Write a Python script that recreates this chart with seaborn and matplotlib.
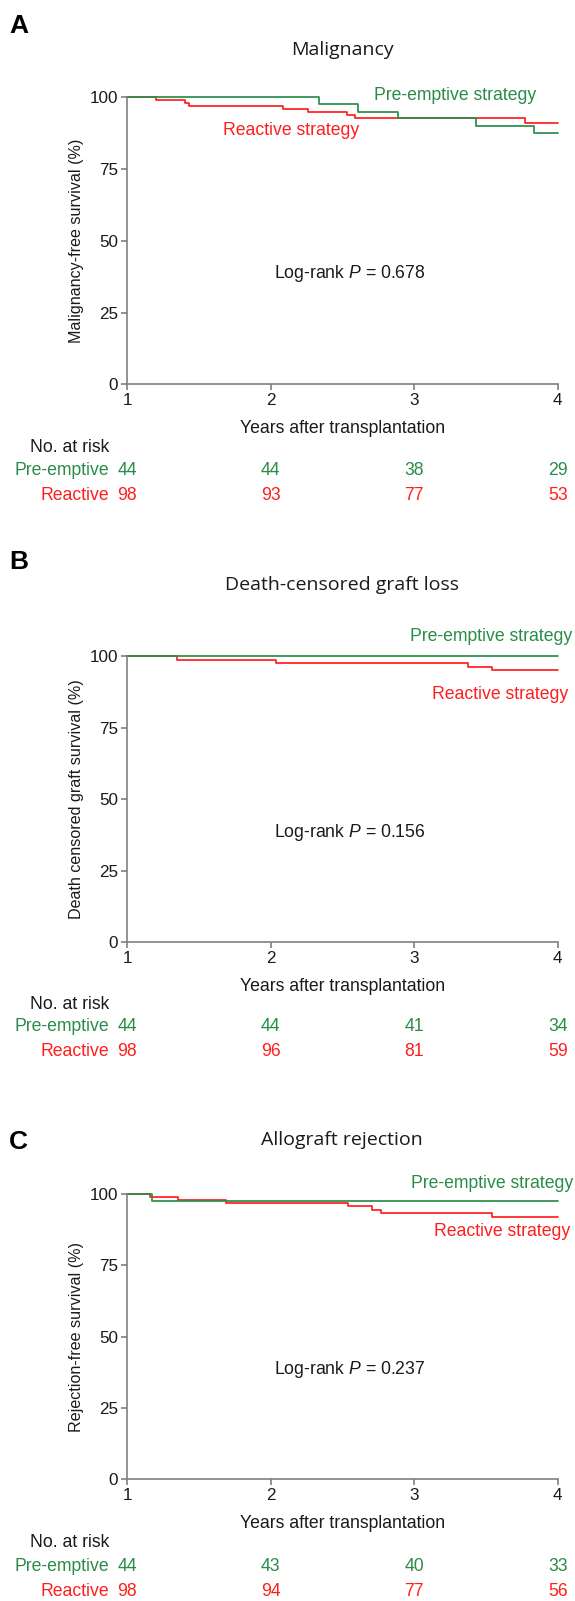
import numpy as np
import pandas as pd
import matplotlib
matplotlib.use("Agg")
import matplotlib.pyplot as plt
import seaborn as sns
from matplotlib.transforms import blended_transform_factory as btf

# ---------------- data ----------------
titles = ["Malignancy", "Death-censored graft loss", "Allograft rejection"]
letters = ["A", "B", "C"]
ylabels = ["Malignancy-free survival (%)",
           "Death censored graft survival (%)",
           "Rejection-free survival (%)"]
pvalues = ["0.678", "0.156", "0.237"]
groups = ["Pre-emptive", "Reactive"]
legend_names = ["Pre-emptive strategy", "Reactive strategy"]
xticks = [1, 2, 3, 4]
yticks = [0, 25, 50, 75, 100]
risk_times = [1, 2, 3, 4]
risk_pre = [[44, 44, 38, 29], [44, 44, 41, 34], [44, 43, 40, 33]]
risk_react = [[98, 93, 77, 53], [98, 96, 81, 59], [98, 94, 77, 56]]

a_pre_t = [1.0, 2.34, 2.61, 2.89, 3.43, 3.835, 4.0]
a_pre_s = [100, 97.7, 95.0, 92.7, 90.1, 87.6, 87.6]
a_rea_t = [1.0, 1.20, 1.404, 1.434, 2.084, 2.263, 2.53, 2.588, 3.772, 4.0]
a_rea_s = [100, 98.9, 98.1, 97.0, 95.8, 94.8, 93.8, 92.7, 91.2, 91.2]

b_pre_t = [1.0, 4.0]
b_pre_s = [100, 100]
b_rea_t = [1.0, 1.346, 2.038, 3.373, 3.54, 4.0]
b_rea_s = [100, 98.95, 97.9, 96.5, 95.2, 95.2]

c_pre_t = [1.0, 1.172, 4.0]
c_pre_s = [100, 97.6, 97.6]
c_rea_t = [1.0, 1.16, 1.356, 1.688, 2.54, 2.71, 2.77, 3.545, 4.0]
c_rea_s = [100, 99.0, 97.9, 96.9, 95.8, 94.6, 93.4, 92.0, 92.0]

curves = [((a_pre_t, a_pre_s), (a_rea_t, a_rea_s)),
          ((b_pre_t, b_pre_s), (b_rea_t, b_rea_s)),
          ((c_pre_t, c_pre_s), (c_rea_t, c_rea_s))]

# ---------------- style ----------------
sns.set_theme(style="ticks")
plt.rcParams["font.family"] = ["Liberation Sans", "DejaVu Sans"]
plt.rcParams["mathtext.fontset"] = "custom"
plt.rcParams["mathtext.rm"] = "Liberation Sans"
plt.rcParams["mathtext.it"] = "Liberation Sans:italic"

GREEN = "#2a8c48"
RED = "#ff1e1e"
SPINE = "#808080"
TXT = "#1a1a1a"
FS = 12.7
TFS = 12.3

W, H = 575, 1601
fig = plt.figure(figsize=(W / 100, H / 100), dpi=100)
fig.patch.set_facecolor("white")

def fx(x):
    return x / W

def fy(y):
    return 1 - y / H

# layout in pixels: (y of 100 line, y of 0 line, letter y, title y, norisk y, pre row y, react row y)
layout = [
    (97.3, 384.3, 26, 50, 447.3, 470.5, 495.5),
    (656.5, 942.3, 562, 585, 1004, 1026.7, 1051.7),
    (1194.3, 1479.0, 1142, 1140, 1542, 1566, 1591),
]
# strategy label positions (data coords): (x_right, y)
lab_pos = [
    [(3.85, 100.8), (2.62, 88.6)],
    [(4.103, 107.0), (4.075, 86.8)],
    [(4.107, 103.9), (4.085, 87.1)],
]
AX_L, AX_R = 127, 557.7

for i in range(3):
    y100, y0, ly, ty, nry, pry, rry = layout[i]
    ax = fig.add_axes([fx(AX_L), fy(y0), (AX_R - AX_L) / W, (y0 - y100) / H])
    (pt, ps), (rt, rs) = curves[i]
    df_r = pd.DataFrame({"t": rt, "s": rs})
    df_p = pd.DataFrame({"t": pt, "s": ps})
    sns.lineplot(data=df_r, x="t", y="s", ax=ax, color=RED, lw=1.25,
                 drawstyle="steps-post", estimator=None, sort=False)
    sns.lineplot(data=df_p, x="t", y="s", ax=ax, color=GREEN, lw=1.25,
                 drawstyle="steps-post", estimator=None, sort=False)
    for ln in ax.lines:
        ln.set_clip_on(False)
    ax.set_xlim(1, 4)
    ax.set_ylim(0, 100)
    ax.set_xticks(xticks)
    ax.set_yticks(yticks)
    ax.set_xticklabels([str(v) for v in xticks])
    ax.set_yticklabels([str(v) for v in yticks])
    sns.despine(ax=ax)
    for sp in ["left", "bottom"]:
        ax.spines[sp].set_color(SPINE)
        ax.spines[sp].set_linewidth(1.2)
    ax.tick_params(axis="both", colors=SPINE, labelcolor=TXT, labelsize=TFS,
                   length=4.5, width=1.2, pad=2)
    ax.set_facecolor("white")
    ax.set_xlabel("Years after transplantation", fontsize=FS, color=TXT)
    ax.xaxis.set_label_coords(0.5, -44 / (y0 - y100))
    ax.xaxis.label.set_va("center")
    ax.set_ylabel(ylabels[i], fontsize=11.6, color=TXT, va="center")
    ax.yaxis.set_label_coords((76.7 - AX_L) / (AX_R - AX_L), 0.5)

    # strategy labels
    (px_, py_), (rx_, ry_) = lab_pos[i]
    ax.text(px_, py_, legend_names[0], color=GREEN, fontsize=FS,
            ha="right", va="center", clip_on=False)
    ax.text(rx_, ry_, legend_names[1], color=RED, fontsize=FS,
            ha="right", va="center", clip_on=False)
    ax.text(2.55, 38.5, "Log-rank $P$ = " + pvalues[i], color=TXT,
            fontsize=FS, ha="center", va="center")

    # panel letter and title
    fig.text(fx(9), fy(ly), letters[i], fontsize=19, fontweight="bold",
             color="black", ha="left", va="center")
    fig.text(fx(342), fy(ty), titles[i], fontsize=14, family=["Open Sans", "DejaVu Sans"],
             color=TXT, ha="center", va="center")

    # number at risk table
    fig.text(fx(109), fy(nry), "No. at risk", fontsize=FS, color=TXT,
             ha="right", va="center")
    fig.text(fx(109), fy(pry), groups[0], fontsize=FS, color=GREEN,
             ha="right", va="center")
    fig.text(fx(109), fy(rry), groups[1], fontsize=FS, color=RED,
             ha="right", va="center")
    tr = btf(ax.transData, fig.transFigure)
    for t, n in zip(risk_times, risk_pre[i]):
        ax.text(t, fy(pry), str(n), transform=tr, fontsize=FS, color=GREEN,
                ha="center", va="center", clip_on=False)
    for t, n in zip(risk_times, risk_react[i]):
        ax.text(t, fy(rry), str(n), transform=tr, fontsize=FS, color=RED,
                ha="center", va="center", clip_on=False)

fig.savefig("out.png", dpi=100, facecolor="white")
